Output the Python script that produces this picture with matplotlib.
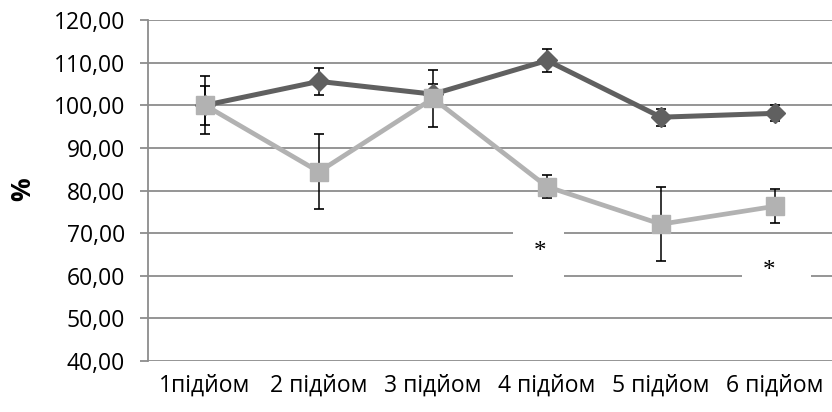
import matplotlib
matplotlib.use("Agg")
import matplotlib.pyplot as plt
from matplotlib.patches import Rectangle
from matplotlib.ticker import FuncFormatter

categories = ["1підйом", "2 підйом", "3 підйом", "4 підйом", "5 підйом", "6 підйом"]
dark_vals = [100.0, 105.6, 102.6, 110.5, 97.2, 98.1]
dark_err = [4.6, 3.2, 2.5, 2.7, 2.0, 1.9]
light_vals = [100.0, 84.4, 101.6, 80.9, 72.1, 76.3]
light_err = [6.8, 8.8, 6.7, 2.7, 8.7, 4.0]
yticks = [40, 50, 60, 70, 80, 90, 100, 110, 120]

plt.rcParams['font.family'] = ['Open Sans', 'DejaVu Sans']

fig = plt.figure(figsize=(8.32, 4.12), dpi=100)
ax = fig.add_axes([148/832, 1-361/412, 1-148/832, (361-20)/412])

x = [i + 0.5 for i in range(len(categories))]

grid_c = '#8c8c8c'
for t in yticks:
    ax.axhline(t, color=grid_c, lw=1.3, zorder=0)

ax.errorbar(x, dark_vals, yerr=dark_err, fmt='none', ecolor='black', elinewidth=1.1,
            capsize=3.8, capthick=1.2, zorder=1)
ax.errorbar(x, light_vals, yerr=light_err, fmt='none', ecolor='black', elinewidth=1.1,
            capsize=3.8, capthick=1.2, zorder=1)
ax.plot(x, dark_vals, color='#606060', lw=3.6, marker='D', markersize=10,
        markerfacecolor='#606060', markeredgecolor='#606060', zorder=2)
ax.plot(x, light_vals, color='#b2b2b2', lw=3.4, marker='s', markersize=13,
        markerfacecolor='#b2b2b2', markeredgecolor='#b2b2b2', zorder=3)

# white boxes with asterisks (significance marks)
ax.add_patch(Rectangle((3.20, 59.0), 0.45, 12.2, facecolor='white', edgecolor='none', zorder=4))
ax.text(3.44, 65.6, '*', family='Liberation Serif', fontsize=18, ha='center', va='center', zorder=5)
ax.add_patch(Rectangle((5.21, 56.0), 0.61, 12.0, facecolor='white', edgecolor='none', zorder=4))
ax.text(5.45, 61.0, '*', family='Liberation Serif', fontsize=18, ha='center', va='center', zorder=5)

ax.set_xlim(0, 6)
ax.set_ylim(40, 120)
ax.set_yticks(yticks)
ax.yaxis.set_major_formatter(FuncFormatter(lambda v, p: f"{v:.2f}".replace('.', ',')))
ax.set_xticks(x)
ax.set_xticklabels(categories)
ax.tick_params(axis='x', length=0, pad=9, labelsize=16.5, colors='black')
ax.tick_params(axis='y', length=5.5, width=1.3, color=grid_c, pad=11, labelsize=16.5)

for s in ['top', 'right', 'bottom']:
    ax.spines[s].set_visible(False)
ax.spines['left'].set_color(grid_c)
ax.spines['left'].set_linewidth(1.3)

fig.text(23/832, 1-189/412, '%', rotation=90, fontsize=19, fontweight='bold',
         ha='center', va='center')

fig.savefig('out.png', dpi=100)
